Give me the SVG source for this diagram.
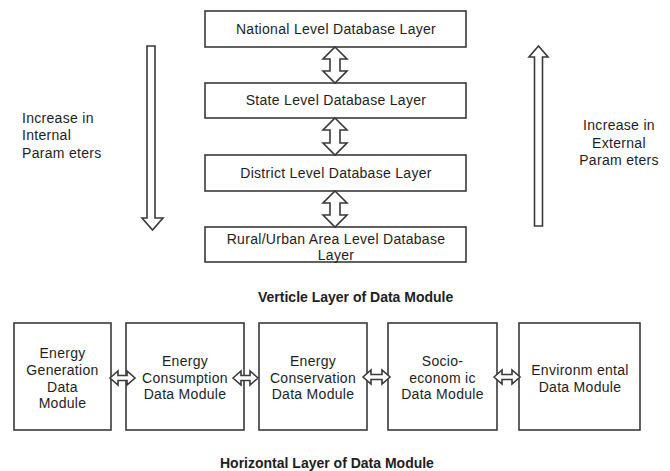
<svg xmlns="http://www.w3.org/2000/svg" width="670" height="471" viewBox="0 0 670 471">
<style>
.box{fill:#fff;stroke:#3a3a3a;stroke-width:1.6}
.arr{fill:#fff;stroke:#3a3a3a;stroke-width:1.6;stroke-linejoin:miter}
text{font-family:"Liberation Sans",Arial,sans-serif;font-size:14px;fill:#1e1e1e;letter-spacing:0.3px}
.c{text-anchor:middle}
.t{font-weight:bold;letter-spacing:0}
</style>
<rect width="670" height="471" fill="#fff"/>

<g id="national"><rect class="box" x="205" y="11" width="261" height="36"/><text class="c" x="336" y="34">National Level Database Layer</text></g>
<g id="state"><rect class="box" x="205" y="83" width="261" height="35"/><text class="c" x="336" y="105">State Level Database Layer</text></g>
<g id="district"><rect class="box" x="205" y="155" width="261" height="36"/><text class="c" x="336" y="178">District Level Database Layer</text></g>
<g id="rural"><rect class="box" x="205" y="227" width="261" height="35"/><text class="c" x="336" y="244">Rural/Urban Area Level Database</text><text class="c" x="336" y="260">Layer</text></g>

<g id="label-internal"><text x="22" y="123">Increase in</text><text x="22" y="140">Internal</text><text x="22" y="158">Param eters</text></g>
<g id="label-external"><text class="c" x="619" y="130">Increase in</text><text class="c" x="619" y="148">External</text><text class="c" x="619" y="165">Param eters</text></g>

<g id="title-vertical"><text class="t" x="258" y="302">Verticle Layer of Data Module</text></g>

<g id="m1"><rect class="box" x="14" y="323" width="97" height="107"/><text class="c" x="62.5" y="358">Energy</text><text class="c" x="62.5" y="375">Generation</text><text class="c" x="62.5" y="392">Data</text><text class="c" x="62.5" y="408">Module</text></g>
<g id="m2"><rect class="box" x="126" y="323" width="118" height="107"/><text class="c" x="185" y="366">Energy</text><text class="c" x="185" y="383">Consumption</text><text class="c" x="185" y="399">Data Module</text></g>
<g id="m3"><rect class="box" x="259" y="323" width="108" height="107"/><text class="c" x="313" y="366">Energy</text><text class="c" x="313" y="383">Conservation</text><text class="c" x="313" y="399">Data Module</text></g>
<g id="m4"><rect class="box" x="388" y="323" width="109" height="107"/><text class="c" x="442.5" y="366">Socio-</text><text class="c" x="442.5" y="383">econom ic</text><text class="c" x="442.5" y="399">Data Module</text></g>
<g id="m5"><rect class="box" x="519" y="323" width="121" height="107"/><text class="c" x="580" y="375">Environm ental</text><text class="c" x="580" y="392">Data Module</text></g>

<g id="title-horizontal"><text class="t" x="220" y="468">Horizontal Layer of Data Module</text></g>

<g id="connectors">
<!-- vertical double arrows between layers -->
<path class="arr" d="M335,47 L347,59 L340,59 L340,71 L347,71 L335,83 L323,71 L330,71 L330,59 L323,59 Z"/>
<path class="arr" d="M335,118 L347,130 L340,130 L340,143 L347,143 L335,155 L323,143 L330,143 L330,130 L323,130 Z"/>
<path class="arr" d="M335,191 L347,203 L340,203 L340,215 L347,215 L335,227 L323,215 L330,215 L330,203 L323,203 Z"/>
<!-- big down arrow -->
<path class="arr" d="M147,46 L155,46 L155,218 L163,218 L152.5,230 L142,218 L147,218 Z"/>
<!-- big up arrow -->
<path class="arr" d="M538.5,46 L548,57 L542.5,57 L542.5,226 L534.5,226 L534.5,57 L529,57 Z"/>
<!-- horizontal double arrows -->
<path class="arr" d="M110,378 L118,371 L118,375.5 L127,375.5 L127,371 L135,378 L127,385 L127,380.5 L118,380.5 L118,385 Z"/>
<path class="arr" d="M233,378 L241,371 L241,375.5 L250,375.5 L250,371 L258,378 L250,385 L250,380.5 L241,380.5 L241,385 Z"/>
<path class="arr" d="M363,377 L371,370 L371,374.5 L382,374.5 L382,370 L390,377 L382,384 L382,379.5 L371,379.5 L371,384 Z"/>
<path class="arr" d="M494,377 L502,370 L502,374.5 L512,374.5 L512,370 L520,377 L512,384 L512,379.5 L502,379.5 L502,384 Z"/>
</g>
</svg>
